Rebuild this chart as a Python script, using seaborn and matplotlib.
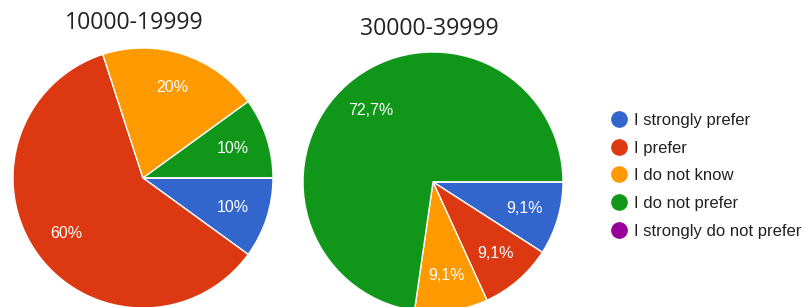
import matplotlib
matplotlib.use("Agg")
import matplotlib.pyplot as plt
from matplotlib.lines import Line2D
import seaborn as sns

# answers, in the order the form lists them
categories = ["I strongly prefer", "I prefer", "I do not know",
              "I do not prefer", "I strongly do not prefer"]
group_titles = ["10000-19999", "30000-39999"]
counts_10k = [1, 6, 2, 1, 0]
counts_30k = [1, 1, 1, 8, 0]

# google forms chart colours
colors = ["#3366cc", "#dc3912", "#ff9900", "#109618", "#990099"]

sns.set_theme(style="white")
plt.rcParams["font.family"] = ["Liberation Sans", "DejaVu Sans"]

W, H = 805, 307
fig = plt.figure(figsize=(W / 100, H / 100), dpi=100)


def pct_label(p):
    if p <= 0:
        return ""
    s = f"{p:.1f}".rstrip("0").rstrip(".")
    return s.replace(".", ",") + "%"


def draw_pie(counts, title, cx, cy, r, title_xy):
    # axes box in pixels -> figure fraction
    ax = fig.add_axes([(cx - r) / W, (H - cy - r) / H, 2 * r / W, 2 * r / H])
    wedges, texts, autotexts = ax.pie(
        counts,
        colors=colors,
        startangle=0,
        counterclock=False,
        autopct=pct_label,
        pctdistance=0.73,
        wedgeprops=dict(edgecolor="white", linewidth=1.0),
        textprops=dict(color="white", fontsize=11.5),
    )
    ax.set_xlim(-1, 1)
    ax.set_ylim(-1, 1)
    ax.set_aspect("auto")
    ax.axis("off")
    fig.text(title_xy[0] / W, 1 - title_xy[1] / H, title,
             ha="center", va="center", fontsize=16.7, color="#222222",
             family=["Open Sans", "DejaVu Sans"])
    return ax


draw_pie(counts_10k, group_titles[0], 143, 178, 130, (134, 23))
draw_pie(counts_30k, group_titles[1], 433, 182, 130, (429, 29))

handles = [Line2D([0], [0], marker="o", linestyle="", markersize=11,
                  markerfacecolor=c, markeredgecolor=c) for c in colors]
fig.legend(handles, categories, loc="upper left",
           bbox_to_anchor=(594 / W, 1 - 98 / H), frameon=False,
           fontsize=12, labelspacing=0.76, handletextpad=0.3,
           handlelength=1.2, labelcolor="#222222")

fig.savefig("out.png", dpi=100)
